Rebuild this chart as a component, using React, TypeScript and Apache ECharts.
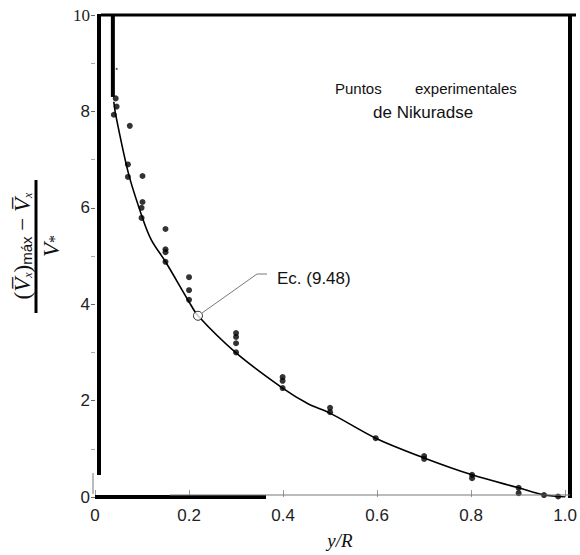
import React, { useEffect, useRef } from "react";
import * as echarts from "echarts";

// Curve: Ec. (9.48)
const curveX = [0.040, 0.044, 0.071, 0.101, 0.120, 0.150, 0.200, 0.219, 0.300, 0.399, 0.454, 0.500, 0.597, 0.700, 0.802, 0.901, 0.955, 1.0];
const curveY = [8.2, 7.93, 6.72, 5.79, 5.33, 4.88, 4.05, 3.76, 2.99, 2.26, 1.93, 1.74, 1.22, 0.81, 0.46, 0.19, 0.04, 0.0];

// thick asymptote segment at the top of the curve
const asymX = [0.038, 0.038];
const asymY = [10, 8.3];

// Nikuradse experimental points
const dotX = [0.044, 0.046, 0.040, 0.074, 0.070, 0.070, 0.101, 0.101, 0.099, 0.099, 0.150, 0.150, 0.150, 0.150, 0.200, 0.200, 0.200, 0.300, 0.300, 0.300, 0.300, 0.399, 0.399, 0.399, 0.500, 0.500, 0.597, 0.700, 0.700, 0.802, 0.802, 0.901, 0.901, 0.955, 0.985];
const dotY = [8.27, 8.1, 7.93, 7.7, 6.9, 6.64, 6.66, 6.12, 6.0, 5.79, 5.56, 5.14, 5.08, 4.88, 4.56, 4.29, 4.09, 3.4, 3.32, 3.19, 3.0, 2.49, 2.41, 2.26, 1.85, 1.76, 1.22, 0.85, 0.79, 0.46, 0.39, 0.19, 0.08, 0.04, 0.01];

const speckX = [0.046];
const speckY = [8.88];

// marked point of the equation
const eqX = [0.219];
const eqY = [3.76];

const xTicks = [0, 0.2, 0.4, 0.6, 0.8, 1.0];
const yTicks = [0, 2, 4, 6, 8, 10];

const zip = (a: number[], b: number[]) => a.map((v, i) => [v, b[i]]);

export default function App() {
  const ref = useRef<HTMLDivElement>(null);
  useEffect(() => {
    const chart = echarts.init(ref.current!, undefined, { renderer: "svg" });
    const sans = "Liberation Sans, Arial, sans-serif";
    const serif = "Liberation Serif, Times New Roman, serif";
    chart.setOption({
      animation: false,
      backgroundColor: "#fff",
      grid: { left: 95, right: 11, top: 15, bottom: 58 },
      xAxis: {
        type: "value",
        min: 0,
        max: 1,
        interval: 0.2,
        axisLine: { show: false },
        splitLine: { show: false },
        axisTick: { show: true, inside: true, length: 7, lineStyle: { color: "#999", width: 1 } },
        axisLabel: {
          margin: 10,
          color: "#222",
          fontFamily: sans,
          fontSize: 17,
          formatter: (v: number) => {
            const i = xTicks.findIndex((t) => Math.abs(t - v) < 1e-6);
            if (i < 0) return "";
            return v === 0 ? "0" : v.toFixed(1);
          },
        },
      },
      yAxis: {
        type: "value",
        min: 0,
        max: 10,
        interval: 2,
        axisLine: { show: false },
        splitLine: { show: false },
        axisTick: { show: true, length: 4, lineStyle: { color: "#666", width: 1 } },
        minorTick: { show: true, splitNumber: 2, length: 4, lineStyle: { color: "#aaa" } },
        axisLabel: {
          margin: 5,
          color: "#222",
          fontFamily: sans,
          fontSize: 17,
          formatter: (v: number) => {
            const i = yTicks.indexOf(v);
            if (i < 0) return "";
            return v === 10 ? "{s|10}" : String(v);
          },
          rich: { s: { fontFamily: serif, fontSize: 17, color: "#222" } },
        },
      },
      series: [
        {
          type: "line",
          data: zip(curveX, curveY),
          smooth: 0.3,
          showSymbol: false,
          lineStyle: { color: "#000", width: 1.6 },
          z: 3,
        },
        {
          type: "line",
          data: zip(asymX, asymY),
          showSymbol: false,
          lineStyle: { color: "#000", width: 4 },
          z: 3,
        },
        {
          type: "scatter",
          data: zip(dotX, dotY),
          symbol: "circle",
          symbolSize: 6,
          itemStyle: { color: "#000" },
          z: 4,
        },
        {
          type: "scatter",
          data: zip(speckX, speckY),
          symbol: "circle",
          symbolSize: 2,
          itemStyle: { color: "#333" },
          z: 4,
        },
        {
          type: "scatter",
          data: zip(eqX, eqY),
          symbol: "circle",
          symbolSize: 9,
          itemStyle: { color: "#fff", borderColor: "#000", borderWidth: 1 },
          z: 5,
        },
      ],
      graphic: [
        // frame lines (scanned figure look)
        { type: "line", shape: { x1: 101, y1: 15, x2: 576, y2: 15 }, style: { stroke: "#000", lineWidth: 3 }, z: 10 },
        { type: "line", shape: { x1: 99, y1: 14, x2: 99, y2: 475 }, style: { stroke: "#000", lineWidth: 4 }, z: 10 },
        { type: "line", shape: { x1: 570, y1: 14, x2: 570, y2: 498 }, style: { stroke: "#000", lineWidth: 4 }, z: 10 },
        { type: "line", shape: { x1: 95, y1: 497, x2: 266, y2: 497 }, style: { stroke: "#000", lineWidth: 4 }, z: 10 },
        { type: "line", shape: { x1: 170, y1: 495, x2: 570, y2: 495 }, style: { stroke: "#777", lineWidth: 1 }, z: 10 },
        { type: "line", shape: { x1: 93, y1: 473, x2: 93, y2: 494 }, style: { stroke: "#777", lineWidth: 1 }, z: 10 },
        // annotation text
        {
          type: "text",
          x: 335,
          y: 88,
          style: { text: "Puntos", font: "15px " + sans, fill: "#111", textVerticalAlign: "middle" },
        },
        {
          type: "text",
          x: 415,
          y: 88,
          style: { text: "experimentales", font: "15px " + sans, fill: "#111", textVerticalAlign: "middle" },
        },
        {
          type: "text",
          x: 373,
          y: 112,
          style: { text: "de Nikuradse", font: "17px " + sans, fill: "#111", textVerticalAlign: "middle" },
        },
        // equation leader
        {
          type: "polyline",
          shape: { points: [[202, 313], [257, 274], [267, 274]] },
          style: { stroke: "#555", lineWidth: 0.8, fill: null },
        },
        {
          type: "text",
          x: 277,
          y: 278,
          style: { text: "Ec. (9.48)", font: "17px " + sans, fill: "#111", textVerticalAlign: "middle" },
        },
        // y-axis title: fraction, rotated
        {
          type: "text",
          x: 22,
          y: 246,
          rotation: Math.PI / 2,
          style: {
            text: "{p|(}{v|V\u0305}{sb|x}{p|)}{m|máx}{p| − }{v|V\u0305}{sb|x}",
            align: "center",
            verticalAlign: "middle",
            rich: {
              p: { font: "23px " + serif, fill: "#111" },
              v: { font: "italic 23px " + serif, fill: "#111" },
              sb: { font: "italic 12px " + serif, fill: "#111", verticalAlign: "bottom", padding: [10, 0, 0, 0] },
              m: { font: "15px " + sans, fill: "#111", verticalAlign: "bottom", padding: [8, 0, 0, 0] },
            },
          },
        },
        { type: "line", shape: { x1: 36, y1: 180, x2: 36, y2: 313 }, style: { stroke: "#000", lineWidth: 3 } },
        {
          type: "text",
          x: 51,
          y: 246,
          rotation: Math.PI / 2,
          style: {
            text: "{v|V}{s|*}",
            align: "center",
            verticalAlign: "middle",
            rich: {
              v: { font: "italic 23px " + serif, fill: "#111" },
              s: { font: "16px " + serif, fill: "#111", verticalAlign: "bottom", padding: [6, 0, 0, 0] },
            },
          },
        },
        // x-axis title
        {
          type: "text",
          x: 340,
          y: 540,
          style: { text: "y/R", font: "italic 19px " + serif, fill: "#111", align: "center", verticalAlign: "middle" },
        },
      ],
    });
    return () => chart.dispose();
  }, []);
  return <div ref={ref} style={{ width: 580, height: 555, position: "absolute", left: 0, top: 0 }} />;
}
